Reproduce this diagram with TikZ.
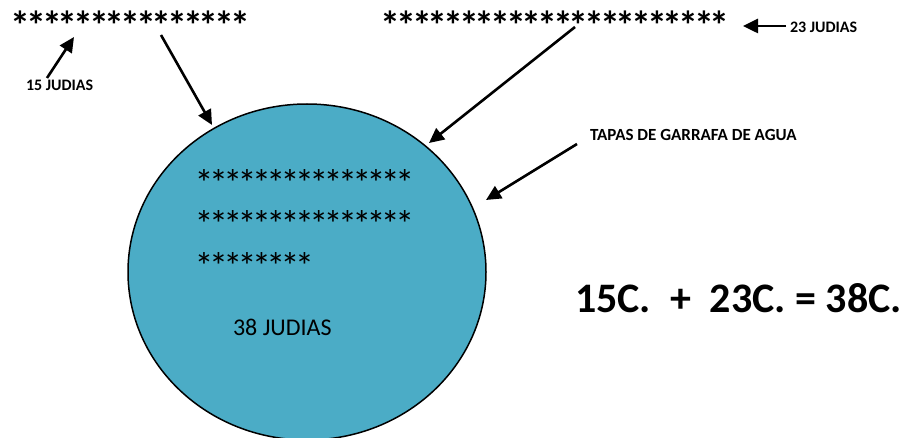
\documentclass[tikz,border=0pt]{standalone}
\usepackage{fontspec}
\setmainfont{Carlito}
\usetikzlibrary{arrows.meta,shapes.geometric}
\definecolor{lidblue}{HTML}{4BACC6}
\newcommand{\mystarrow}[2]{\foreach \i in {1,...,#1}{\makebox[#2][c]{*}}}
\tikzset{
  txt/.style={anchor=base west, inner sep=0pt, outer sep=0pt},
  lbl/.style={txt, font=\fontsize{16}{18}\selectfont\bfseries},
  bigstars/.style={txt, font=\fontsize{40}{42}\selectfont\bfseries},
  instars/.style={txt, font=\fontsize{38}{40}\selectfont},
  arr/.style={line width=2.6pt, -{Triangle[length=15pt,width=14pt]}},
  lid/.style={ellipse, draw=black, line width=1.5pt, fill=lidblue, inner sep=0pt,
    minimum width=358pt, minimum height=336pt}
}
\begin{document}
\begin{tikzpicture}[x=1pt,y=-1pt]
\useasboundingbox (0,0) rectangle (905,438);
% lid
\node[lid] (lid) at (307,272) {};
% stars
\node[bigstars] (s15) at (13,40) {\mystarrow{15}{15.67pt}};
\node[bigstars] (s23) at (383,40) {\mystarrow{22}{15.67pt}};
\node[instars] (r1) at (197,197) {\mystarrow{15}{14.33pt}};
\node[instars] (r2) at (197,238) {\mystarrow{15}{14.33pt}};
\node[instars] (r3) at (197,280) {\mystarrow{8}{14.33pt}};
% labels
\node[lbl] (l15) at (26,91) {15 JUDIAS};
\node[lbl] (l23) at (790,33) {23 JUDIAS};
\node[txt, font=\fontsize{17}{19}\selectfont\bfseries] (ltap) at (590,141) {TAPAS DE GARRAFA DE AGUA};
\node[txt, font=\fontsize{24}{26}\selectfont] (l38) at (233,336) {38 JUDIAS};
\node[txt, font=\fontsize{42}{46}\selectfont\bfseries] (eq) at (575,313) {15C.\ \ +\ \ 23C. = 38C.};
% arrow end points
\coordinate (a1t) at (47,78);  \coordinate (a1h) at (74,37);
\coordinate (a2t) at (161,35); \coordinate (a2h) at (212,125);
\coordinate (a3t) at (575,27); \coordinate (a3h) at (429,143);
\coordinate (a4t) at (786,26); \coordinate (a4h) at (743,26);
\coordinate (a5t) at (577,144); \coordinate (a5h) at (486,200);
\draw[arr] (a1t) -- (a1h);
\draw[arr] (a2t) -- (a2h);
\draw[arr] (a3t) -- (a3h);
\draw[arr] (a4t) -- (a4h);
\draw[arr] (a5t) -- (a5h);
\end{tikzpicture}
\end{document}
